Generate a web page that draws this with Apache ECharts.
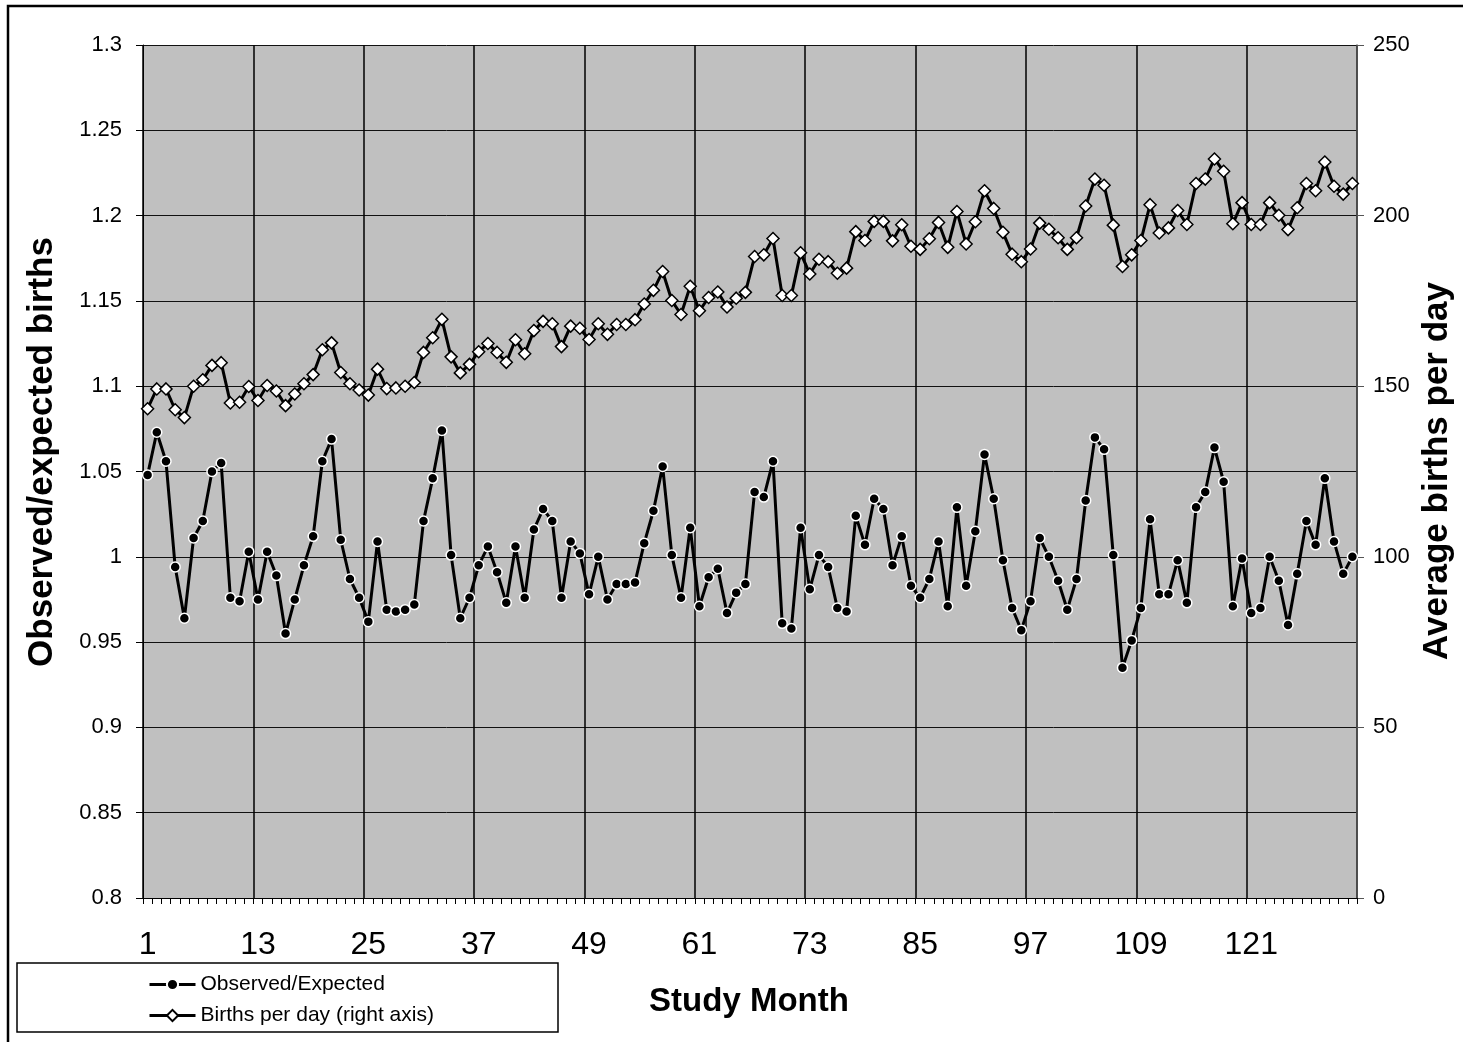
<!DOCTYPE html>
<html>
<head>
<meta charset="utf-8">
<title>Observed/expected births</title>
<script src="https://cdn.jsdelivr.net/npm/echarts@6/dist/echarts.min.js"></script>
<style>
    html, body {
        margin: 0;
        padding: 0;
        background: #fff;
    }
    #chart {
        width: 1463px;
        height: 1042px;
    }
</style>
</head>
<body>
<div id="chart"></div>
<script>
    // study months 1..132
    var months = [];
    for (var m = 1; m <= 132; m++) {
        months.push(String(m));
    }

    // observed / expected births (left axis)
    var observedExpected = [
        1.048, 1.073, 1.056, 0.994, 0.964, 1.011, 1.021, 1.050, 1.055, 0.976, 0.974, 1.003,
        0.975, 1.003, 0.989, 0.955, 0.975, 0.995, 1.012, 1.056, 1.069, 1.010, 0.987, 0.976,
        0.962, 1.009, 0.969, 0.968, 0.969, 0.972, 1.021, 1.046, 1.074, 1.001, 0.964, 0.976,
        0.995, 1.006, 0.991, 0.973, 1.006, 0.976, 1.016, 1.028, 1.021, 0.976, 1.009, 1.002,
        0.978, 1.000, 0.975, 0.984, 0.984, 0.985, 1.008, 1.027, 1.053, 1.001, 0.976, 1.017,
        0.971, 0.988, 0.993, 0.967, 0.979, 0.984, 1.038, 1.035, 1.056, 0.961, 0.958, 1.017,
        0.981, 1.001, 0.994, 0.970, 0.968, 1.024, 1.007, 1.034, 1.028, 0.995, 1.012, 0.983,
        0.976, 0.987, 1.009, 0.971, 1.029, 0.983, 1.015, 1.060, 1.034, 0.998, 0.970, 0.957,
        0.974, 1.011, 1.000, 0.986, 0.969, 0.987, 1.033, 1.070, 1.063, 1.001, 0.935, 0.951,
        0.970, 1.022, 0.978, 0.978, 0.998, 0.973, 1.029, 1.038, 1.064, 1.044, 0.971, 0.999,
        0.967, 0.970, 1.000, 0.986, 0.960, 0.990, 1.021, 1.007, 1.046, 1.009, 0.990, 1.000
    ];

    // average births per day (right axis)
    var birthsPerDay = [
        143.4, 149.2, 149.2, 143.1, 140.8, 150.0, 151.9, 156.1, 156.9, 145.1, 145.3, 149.9,
        145.8, 150.2, 148.6, 144.3, 147.7, 150.7, 153.4, 160.7, 162.7, 154.0, 150.7, 148.9,
        147.4, 155.0, 149.3, 149.5, 150.0, 151.1, 159.9, 164.2, 169.6, 158.6, 153.9, 156.4,
        160.1, 162.5, 159.9, 157.0, 163.6, 159.5, 166.3, 169.0, 168.3, 161.6, 167.6, 167.0,
        163.7, 168.3, 165.2, 168.1, 168.1, 169.5, 174.1, 178.1, 183.6, 175.1, 171.0, 179.3,
        172.1, 176.0, 177.6, 173.2, 175.8, 177.5, 188.0, 188.5, 193.3, 176.6, 176.6, 189.1,
        182.9, 187.2, 186.5, 183.1, 184.6, 195.3, 192.7, 198.3, 198.3, 192.6, 197.3, 191.0,
        190.1, 193.2, 198.0, 190.7, 201.2, 191.7, 198.2, 207.3, 202.1, 195.1, 188.7, 186.5,
        190.2, 197.8, 196.0, 193.5, 190.1, 193.5, 202.8, 210.7, 208.9, 197.2, 185.1, 188.5,
        192.7, 203.2, 194.9, 196.4, 201.5, 197.4, 209.4, 210.7, 216.6, 213.0, 197.6, 203.8,
        197.4, 197.4, 203.8, 200.1, 195.9, 202.3, 209.4, 207.3, 215.7, 208.6, 206.3, 209.4
    ];

    var leftTicks = {min: 0.8, max: 1.3, interval: 0.05};
    var rightTicks = {min: 0, max: 250, interval: 50};

    var FONT = '"Liberation Sans", Arial, sans-serif';

    var myChart = echarts.init(document.getElementById('chart'));

    var option = {
        animation: false,
        backgroundColor: '#fff',
        textStyle: {
            fontFamily: FONT,
            color: '#000'
        },
        grid: {
            left: 143,
            right: 106,
            top: 45,
            bottom: 144,
            show: true,
            backgroundColor: '#c0c0c0',
            borderWidth: 0
        },
        legend: {
            orient: 'vertical',
            left: 143,
            top: 969,
            itemWidth: 46,
            itemHeight: 14,
            itemGap: 10,
            z: 10,
            lineStyle: {width: 3},
            textStyle: {
                fontSize: 21,
                color: '#000',
                fontFamily: FONT
            },
            data: ['Observed/Expected', 'Births per day (right axis)']
        },
        xAxis: {
            type: 'category',
            data: months,
            boundaryGap: true,
            axisLine: {
                show: true,
                lineStyle: {color: '#000', width: 1}
            },
            axisTick: {
                show: true,
                interval: 0,
                length: 6,
                lineStyle: {color: '#000'}
            },
            axisLabel: {
                interval: 11,
                fontSize: 32,
                color: '#000',
                margin: 31
            },
            splitLine: {
                show: true,
                interval: 11,
                lineStyle: {color: '#000', width: 1.5}
            }
        },
        yAxis: [
            {
                type: 'value',
                min: leftTicks.min,
                max: leftTicks.max,
                interval: leftTicks.interval,
                axisLine: {
                    show: true,
                    lineStyle: {color: '#000', width: 1}
                },
                axisTick: {
                    show: true,
                    length: 7,
                    lineStyle: {color: '#000'}
                },
                axisLabel: {
                    fontSize: 22,
                    color: '#000',
                    margin: 21,
                    formatter: function (v) {
                        return String(+v.toFixed(2));
                    }
                },
                splitLine: {
                    show: true,
                    lineStyle: {color: '#111', width: 1}
                }
            },
            {
                type: 'value',
                min: rightTicks.min,
                max: rightTicks.max,
                interval: rightTicks.interval,
                axisLine: {
                    show: true,
                    lineStyle: {color: '#555', width: 1.5}
                },
                axisTick: {
                    show: true,
                    length: 7,
                    lineStyle: {color: '#555'}
                },
                axisLabel: {
                    fontSize: 22,
                    color: '#000',
                    margin: 16
                },
                splitLine: {show: false}
            }
        ],
        graphic: [
            {
                // outer frame of the chart area
                type: 'rect',
                z: -10,
                shape: {x: 8, y: 6, width: 1500, height: 1100},
                style: {fill: null, stroke: '#000', lineWidth: 2.5}
            },
            {
                // legend box
                type: 'rect',
                z: 1,
                shape: {x: 17, y: 963, width: 541, height: 69},
                style: {fill: '#fff', stroke: '#000', lineWidth: 1.5}
            },
            {
                type: 'text',
                x: 42,
                y: 452,
                rotation: Math.PI / 2,
                style: {
                    text: 'Observed/expected births',
                    fontSize: 35,
                    fontWeight: 'bold',
                    fontFamily: FONT,
                    fill: '#000',
                    align: 'center',
                    verticalAlign: 'middle'
                }
            },
            {
                type: 'text',
                x: 1437,
                y: 471,
                rotation: Math.PI / 2,
                style: {
                    text: 'Average births per day',
                    fontSize: 35,
                    fontWeight: 'bold',
                    fontFamily: FONT,
                    fill: '#000',
                    align: 'center',
                    verticalAlign: 'middle'
                }
            },
            {
                type: 'text',
                x: 749,
                y: 1002,
                style: {
                    text: 'Study Month',
                    fontSize: 33,
                    fontWeight: 'bold',
                    fontFamily: FONT,
                    fill: '#000',
                    align: 'center',
                    verticalAlign: 'middle'
                }
            }
        ],
        series: [
            {
                name: 'Observed/Expected',
                type: 'line',
                yAxisIndex: 0,
                data: observedExpected,
                symbol: 'circle',
                symbolSize: 10,
                showAllSymbol: true,
                lineStyle: {color: '#000', width: 3},
                itemStyle: {color: '#000', borderColor: '#fff', borderWidth: 1.5},
                z: 3
            },
            {
                name: 'Births per day (right axis)',
                type: 'line',
                yAxisIndex: 1,
                data: birthsPerDay,
                symbol: 'diamond',
                symbolSize: 12,
                showAllSymbol: true,
                lineStyle: {color: '#000', width: 3},
                itemStyle: {color: '#fff', borderColor: '#000', borderWidth: 1.5},
                z: 3
            }
        ]
    };

    myChart.setOption(option, true);
</script>
</body>
</html>
